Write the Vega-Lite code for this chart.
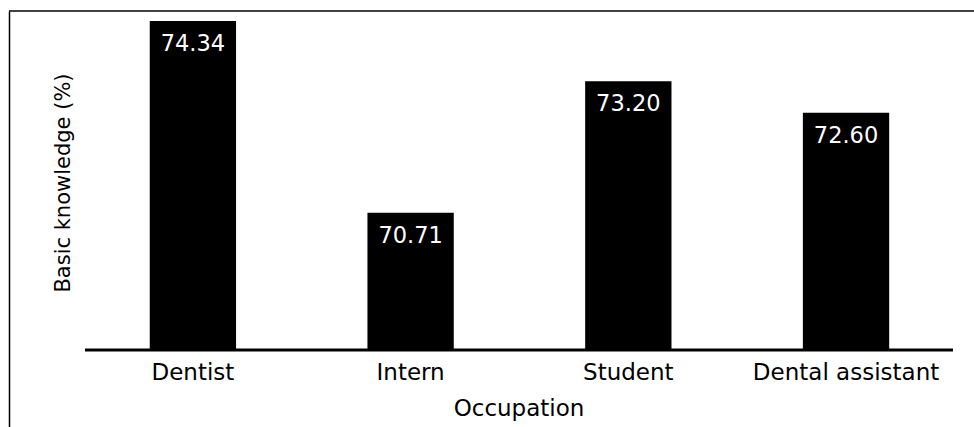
{
  "$schema": "https://vega.github.io/schema/vega-lite/v6.json",
  "width": 965,
  "height": 416,
  "autosize": {"type": "none"},
  "padding": {"left": 9, "top": 11, "right": 0, "bottom": 0},
  "background": "white",
  "config": {"view": {"stroke": null}, "font": "DejaVu Sans"},
  "data": {
    "values": [
      {"occupation": "Dentist", "value": 74.34},
      {"occupation": "Intern", "value": 70.71},
      {"occupation": "Student", "value": 73.20},
      {"occupation": "Dental assistant", "value": 72.60}
    ]
  },
  "layer": [
    {
      "mark": {"type": "bar", "color": "black"},
      "encoding": {
        "x": {
          "field": "occupation",
          "type": "nominal",
          "sort": null,
          "scale": {"type": "band", "paddingInner": 0.6035, "paddingOuter": 0.518, "align": 0.624},
          "axis": {
            "orient": "bottom",
            "offset": -77,
            "domain": false,
            "ticks": false,
            "tickSize": 0,
            "grid": false,
            "labelAngle": 0,
            "labelLimit": 0,
            "labelFont": "DejaVu Sans",
            "labelFontSize": 23,
            "labelColor": "black",
            "labelBaseline": "alphabetic",
            "labelPadding": 29.5,
            "title": "Occupation",
            "titleFont": "DejaVu Sans",
            "titleFontSize": 23,
            "titleFontWeight": "normal",
            "titleColor": "black",
            "titleX": 509.5,
            "titleY": 65.5,
            "titleBaseline": "alphabetic"
          }
        },
        "y": {
          "field": "value",
          "type": "quantitative",
          "scale": {"domain": [66.652, 74.529], "nice": false, "zero": false},
          "axis": {
            "domain": true,
            "domainColor": "black",
            "domainWidth": 1.5,
            "ticks": false,
            "labels": false,
            "grid": false,
            "title": "Basic knowledge (%)",
            "titleFont": "DejaVu Sans",
            "titleFontSize": 21,
            "titleFontWeight": "normal",
            "titleColor": "black",
            "titleX": 60,
            "titleY": 171.5,
            "titleBaseline": "alphabetic"
          }
        },
        "y2": {"datum": 68.11}
      }
    },
    {
      "mark": {"type": "text", "color": "white", "fontSize": 22.5, "font": "DejaVu Sans", "baseline": "alphabetic", "dy": 30},
      "encoding": {
        "x": {"field": "occupation", "type": "nominal", "sort": null},
        "y": {"field": "value", "type": "quantitative"},
        "text": {"field": "value", "type": "quantitative", "format": ".2f"}
      }
    },
    {
      "data": {"values": [{}]},
      "mark": {"type": "rule", "color": "black", "strokeWidth": 3},
      "encoding": {
        "x": {"datum": "Dentist", "bandPosition": -0.75},
        "x2": {"datum": "Dental assistant", "bandPosition": 1.739},
        "y": {"datum": 68.11}
      }
    },
    {
      "data": {"values": [{}]},
      "mark": {"type": "rule", "color": "black", "strokeWidth": 1.5},
      "encoding": {
        "y": {"datum": 74.529}
      }
    }
  ]
}
